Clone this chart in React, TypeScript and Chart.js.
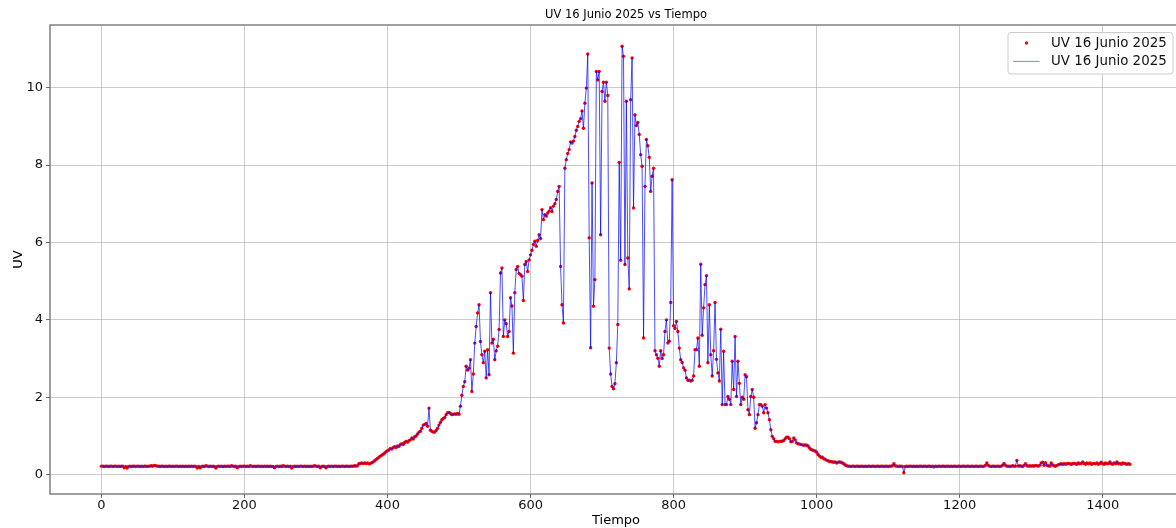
import React, { useEffect, useRef } from "react";
import { Chart, registerables } from "chart.js";

Chart.register(...registerables);

const CHART_TITLE = "UV 16 Junio 2025 vs Tiempo";
const SERIES_LABEL = "UV 16 Junio 2025";
const X_TITLE = "Tiempo";
const Y_TITLE = "UV";

// One reading every STEP_MIN minutes, grouped in four-hour blocks.
const STEP_MIN = 2;
const BLOCK_MIN = 240;

const uv00to04 = [
  0.22, 0.22, 0.21, 0.22, 0.22, 0.21, 0.22, 0.22, 0.21, 0.22,
  0.22, 0.21, 0.22, 0.21, 0.22, 0.22, 0.18, 0.21, 0.17, 0.21,
  0.22, 0.21, 0.22, 0.22, 0.21, 0.22, 0.22, 0.21, 0.22, 0.21,
  0.22, 0.22, 0.21, 0.22, 0.22, 0.23, 0.22, 0.24, 0.23, 0.22,
  0.22, 0.21, 0.22, 0.22, 0.21, 0.22, 0.21, 0.22, 0.22, 0.21,
  0.22, 0.21, 0.22, 0.22, 0.21, 0.22, 0.21, 0.22, 0.21, 0.22,
  0.21, 0.22, 0.21, 0.22, 0.21, 0.22, 0.21, 0.17, 0.21, 0.18,
  0.21, 0.22, 0.21, 0.23, 0.22, 0.21, 0.22, 0.21, 0.22, 0.21,
  0.17, 0.21, 0.22, 0.21, 0.22, 0.21, 0.22, 0.21, 0.22, 0.22,
  0.21, 0.23, 0.22, 0.21, 0.22, 0.18, 0.21, 0.22, 0.21, 0.22,
  0.22, 0.21, 0.22, 0.21, 0.23, 0.22, 0.21, 0.22, 0.21, 0.22,
  0.22, 0.21, 0.22, 0.21, 0.22, 0.21, 0.22, 0.21, 0.22, 0.21,
];

const uv04to08 = [
  0.21, 0.18, 0.21, 0.22, 0.21, 0.22, 0.21, 0.23, 0.22, 0.21,
  0.22, 0.21, 0.22, 0.17, 0.21, 0.22, 0.21, 0.22, 0.21, 0.22,
  0.22, 0.21, 0.22, 0.21, 0.22, 0.21, 0.22, 0.21, 0.22, 0.23,
  0.22, 0.21, 0.22, 0.18, 0.21, 0.22, 0.21, 0.18, 0.21, 0.22,
  0.21, 0.22, 0.21, 0.22, 0.22, 0.21, 0.22, 0.21, 0.22, 0.22,
  0.21, 0.22, 0.22, 0.21, 0.22, 0.22, 0.22, 0.23, 0.22, 0.23,
  0.28, 0.29, 0.30, 0.29, 0.30, 0.29, 0.30, 0.28, 0.29, 0.31,
  0.33, 0.36, 0.39, 0.42, 0.45, 0.48, 0.50, 0.53, 0.56, 0.59,
  0.62, 0.64, 0.68, 0.66, 0.70, 0.72, 0.70, 0.74, 0.73, 0.78,
  0.80, 0.78, 0.83, 0.86, 0.84, 0.88, 0.90, 0.95, 0.92, 0.98,
  1.00, 1.05, 1.10, 1.12, 1.20, 1.28, 1.30, 1.32, 1.25, 1.72,
  1.15, 1.12, 1.10, 1.10, 1.14, 1.20, 1.28, 1.35, 1.42, 1.45,
];

const uv08to12 = [
  1.48, 1.55, 1.60, 1.61, 1.58, 1.55, 1.56, 1.57, 1.56, 1.58,
  1.56, 1.77, 2.05, 2.28, 2.40, 2.80, 2.70, 2.75, 2.97, 2.15,
  2.60, 3.40, 3.83, 4.18, 4.39, 3.44, 3.10, 2.89, 3.19, 2.50,
  3.23, 2.58, 4.70, 3.40, 3.50, 2.97, 3.20, 3.32, 3.75, 5.21,
  5.34, 3.57, 4.00, 3.90, 3.57, 3.70, 4.57, 4.36, 3.14, 4.70,
  5.30, 5.38, 5.20, 5.17, 5.13, 4.50, 5.43, 5.51, 5.25, 5.55,
  5.68, 5.80, 5.95, 6.03, 5.90, 6.05, 6.20, 6.10, 6.85, 6.59,
  6.72, 6.68, 6.76, 6.81, 6.90, 6.80, 6.94, 7.00, 7.11, 7.32,
  7.45, 5.38, 4.39, 3.92, 7.92, 8.14, 8.30, 8.40, 8.60, 8.57,
  8.62, 8.74, 8.90, 9.00, 9.13, 9.20, 9.40, 8.95, 9.60, 9.99,
  10.87, 6.12, 3.28, 7.54, 4.35, 5.04, 10.42, 10.20, 10.42, 6.20,
  9.90, 10.14, 9.65, 10.14, 9.80, 3.27, 2.60, 2.28, 2.22, 2.35,
];

const uv12to16 = [
  2.89, 3.88, 8.07, 5.54, 11.07, 10.81, 5.43, 9.65, 5.60, 4.80,
  9.69, 10.77, 6.89, 9.30, 9.02, 9.10, 8.79, 8.27, 7.97, 3.53,
  7.45, 8.66, 8.50, 8.20, 7.32, 7.71, 7.92, 3.20, 3.10, 3.01,
  2.80, 3.20, 3.00, 3.10, 3.70, 4.00, 3.40, 3.45, 4.45, 7.62,
  3.85, 3.78, 3.96, 3.70, 3.27, 2.97, 2.90, 2.76, 2.70, 2.50,
  2.44, 2.44, 2.42, 2.44, 2.55, 3.23, 3.23, 3.53, 2.80, 5.44,
  3.60, 4.31, 4.91, 5.14, 2.89, 4.39, 3.10, 2.55, 3.20, 4.45,
  2.98, 2.63, 2.42, 3.76, 1.81, 3.19, 1.81, 1.81, 2.02, 1.95,
  1.81, 2.93, 2.20, 3.57, 2.02, 2.93, 2.36, 1.81, 2.00, 1.95,
  2.58, 2.53, 1.68, 1.55, 2.02, 2.20, 2.00, 1.20, 1.34, 1.55,
  1.81, 1.81, 1.77, 1.60, 1.81, 1.72, 1.60, 1.42, 1.16, 0.99,
  0.93, 0.86, 0.86, 0.85, 0.86, 0.86, 0.87, 0.88, 0.93, 0.97,
];

const uv16to20 = [
  0.97, 0.93, 0.85, 0.86, 0.95, 0.90, 0.82, 0.80, 0.79, 0.78,
  0.77, 0.76, 0.77, 0.76, 0.74, 0.69, 0.65, 0.64, 0.62, 0.61,
  0.58, 0.52, 0.48, 0.45, 0.45, 0.41, 0.40, 0.37, 0.36, 0.34,
  0.34, 0.33, 0.32, 0.33, 0.30, 0.32, 0.33, 0.32, 0.30, 0.28,
  0.25, 0.23, 0.22, 0.22, 0.21, 0.22, 0.22, 0.21, 0.22, 0.22,
  0.21, 0.22, 0.22, 0.21, 0.22, 0.21, 0.22, 0.22, 0.21, 0.22,
  0.22, 0.21, 0.22, 0.22, 0.21, 0.22, 0.22, 0.21, 0.22, 0.22,
  0.21, 0.22, 0.22, 0.23, 0.28, 0.23, 0.22, 0.21, 0.22, 0.22,
  0.21, 0.05, 0.21, 0.22, 0.21, 0.22, 0.22, 0.21, 0.22, 0.21,
  0.22, 0.21, 0.22, 0.22, 0.21, 0.22, 0.22, 0.21, 0.22, 0.22,
  0.21, 0.22, 0.20, 0.22, 0.21, 0.22, 0.22, 0.21, 0.22, 0.22,
  0.21, 0.22, 0.22, 0.21, 0.22, 0.21, 0.22, 0.22, 0.21, 0.22,
];

const uv20to24 = [
  0.22, 0.21, 0.22, 0.22, 0.21, 0.22, 0.22, 0.21, 0.22, 0.22,
  0.21, 0.22, 0.22, 0.21, 0.22, 0.22, 0.21, 0.22, 0.24, 0.30,
  0.24, 0.22, 0.21, 0.22, 0.22, 0.21, 0.22, 0.22, 0.21, 0.22,
  0.24, 0.29, 0.24, 0.22, 0.22, 0.21, 0.22, 0.23, 0.22, 0.22,
  0.37, 0.22, 0.23, 0.22, 0.21, 0.24, 0.28, 0.23, 0.22, 0.23,
  0.22, 0.23, 0.22, 0.24, 0.23, 0.22, 0.24, 0.30, 0.32, 0.24,
  0.31, 0.24, 0.23, 0.22, 0.30, 0.25, 0.23, 0.22, 0.24, 0.26,
  0.27, 0.28, 0.27, 0.28, 0.27, 0.28, 0.29, 0.28, 0.27, 0.28,
  0.29, 0.28, 0.27, 0.30, 0.28, 0.29, 0.33, 0.29, 0.27, 0.30,
  0.28, 0.30, 0.27, 0.28, 0.29, 0.28, 0.30, 0.27, 0.29, 0.32,
  0.28, 0.27, 0.30, 0.28, 0.29, 0.33, 0.28, 0.27, 0.30, 0.28,
  0.33, 0.28, 0.29, 0.27, 0.30, 0.29, 0.28, 0.27, 0.28, 0.27,
];

const uvBlocks = [uv00to04, uv04to08, uv08to12, uv12to16, uv16to20, uv20to24];

const xTicks = [0, 200, 400, 600, 800, 1000, 1200, 1400];
const yTicks = [0, 2, 4, 6, 8, 10];
const xLimits = [-71.9, 1510.9];
const yLimits = [-0.5, 11.62];

const FONT = "'DejaVu Sans', 'Liberation Sans', sans-serif";
const LINE_COLOR = "rgba(0, 0, 255, 0.7)";
const DOT_COLOR = "#ff0000";
const SPINE_COLOR = "#6e6e6e";
const TEXT_COLOR = "#111";

const readings = uvBlocks.flatMap((block, b) =>
  block.map((uv, i) => ({ x: b * BLOCK_MIN + i * STEP_MIN, y: uv }))
);

// Axes frame (top, left, bottom; the right edge runs off the page).
const framePlugin = {
  id: "frame",
  afterDraw(chart: any) {
    const { ctx, chartArea: a } = chart;
    ctx.save();
    ctx.strokeStyle = SPINE_COLOR;
    ctx.lineWidth = 1.3;
    ctx.strokeRect(a.left, a.top, a.right - a.left, a.bottom - a.top);
    ctx.restore();
  },
};

// Title above the plotting area.
const titlePlugin = {
  id: "axesTitle",
  afterDraw(chart: any) {
    const { ctx, chartArea: a } = chart;
    ctx.save();
    ctx.font = `11.5px ${FONT}`;
    ctx.fillStyle = "#000";
    ctx.textAlign = "center";
    ctx.textBaseline = "middle";
    ctx.fillText(CHART_TITLE, (a.left + a.right) / 2 + 10, 15);
    ctx.restore();
  },
};

// Legend box in the upper right corner of the plotting area.
const insetLegendPlugin = {
  id: "insetLegend",
  afterDraw(chart: any) {
    const { ctx, chartArea: a } = chart;
    const sets = chart.data.datasets;
    const right = a.right - 9.5;
    const left = right - 165;
    const top = a.top + 7;
    const rowH = 18.4;
    const height = 41.5;
    ctx.save();
    ctx.beginPath();
    ctx.roundRect(left + 0.5, top + 0.5, right - left, height, 3);
    ctx.fillStyle = "rgba(255,255,255,0.8)";
    ctx.fill();
    ctx.strokeStyle = "#cccccc";
    ctx.lineWidth = 1;
    ctx.stroke();
    ctx.font = `13.4px ${FONT}`;
    ctx.textBaseline = "middle";
    ctx.textAlign = "left";
    sets.forEach((ds: any, i: number) => {
      const cy = top + 11 + i * rowH;
      if (ds.showLine === false) {
        ctx.beginPath();
        ctx.arc(left + 19, cy, 1.7, 0, Math.PI * 2);
        ctx.fillStyle = ds.backgroundColor;
        ctx.fill();
      } else {
        ctx.beginPath();
        ctx.moveTo(left + 5.5, cy);
        ctx.lineTo(left + 32, cy);
        ctx.strokeStyle = "rgba(0, 0, 255, 0.5)";
        ctx.lineWidth = ds.borderWidth;
        ctx.stroke();
      }
      ctx.fillStyle = TEXT_COLOR;
      ctx.fillText(ds.label, left + 43.5, cy + 0.5);
    });
    ctx.restore();
  },
};

export default function App() {
  const canvasRef = useRef<HTMLCanvasElement | null>(null);

  useEffect(() => {
    if (!canvasRef.current) return;
    const tickFont = { family: FONT, size: 13 };
    const grid = {
      color: "rgba(176,176,176,0.65)",
      lineWidth: 1,
      drawTicks: true,
      tickLength: 4,
      tickColor: SPINE_COLOR,
      tickWidth: 1,
    };
    const chart = new Chart(canvasRef.current, {
      type: "scatter",
      data: {
        datasets: [
          {
            type: "scatter",
            label: SERIES_LABEL,
            data: readings,
            showLine: false,
            backgroundColor: DOT_COLOR,
            borderWidth: 0,
            pointRadius: 1.7,
            order: 1,
          },
          {
            type: "line",
            label: SERIES_LABEL,
            data: readings,
            showLine: true,
            borderColor: LINE_COLOR,
            borderWidth: 1,
            pointRadius: 0,
            fill: false,
            tension: 0,
            order: 0,
          },
        ],
      },
      options: {
        animation: false,
        responsive: true,
        maintainAspectRatio: false,
        events: [],
        layout: { padding: { top: 25, right: 8, left: 0, bottom: 0 } },
        plugins: {
          legend: { display: false },
          title: { display: false },
          tooltip: { enabled: false },
        },
        scales: {
          x: {
            type: "linear",
            min: xLimits[0],
            max: xLimits[1],
            afterBuildTicks: (s: any) => {
              s.ticks = xTicks.map((v) => ({ value: v }));
            },
            afterFit: (s: any) => {
              s.height = 34;
            },
            ticks: {
              font: tickFont,
              color: TEXT_COLOR,
              padding: 0,
              maxRotation: 0,
              callback: (v: any) => String(v),
            },
            grid,
            border: { display: false },
            title: {
              display: true,
              text: X_TITLE,
              font: { family: FONT, size: 13 },
              color: "#000",
              padding: { top: 0, bottom: 0 },
            },
          },
          y: {
            type: "linear",
            min: yLimits[0],
            max: yLimits[1],
            afterBuildTicks: (s: any) => {
              s.ticks = yTicks.map((v) => ({ value: v }));
            },
            afterFit: (s: any) => {
              s.width = 50;
            },
            ticks: {
              font: tickFont,
              color: TEXT_COLOR,
              padding: 3,
              callback: (v: any) => String(v),
            },
            grid,
            border: { display: false },
            title: {
              display: true,
              text: Y_TITLE,
              font: { family: FONT, size: 13 },
              color: "#000",
              padding: { top: 11, bottom: 0 },
            },
          },
        },
      },
      plugins: [framePlugin, titlePlugin, insetLegendPlugin],
    } as any);
    return () => chart.destroy();
  }, []);

  return (
    <div
      style={{
        position: "fixed",
        left: 0,
        top: 0,
        width: "100vw",
        height: "100vh",
        overflow: "hidden",
        background: "#fff",
      }}
    >
      <div style={{ position: "relative", width: 1190, height: 528 }}>
        <canvas ref={canvasRef} />
      </div>
    </div>
  );
}
